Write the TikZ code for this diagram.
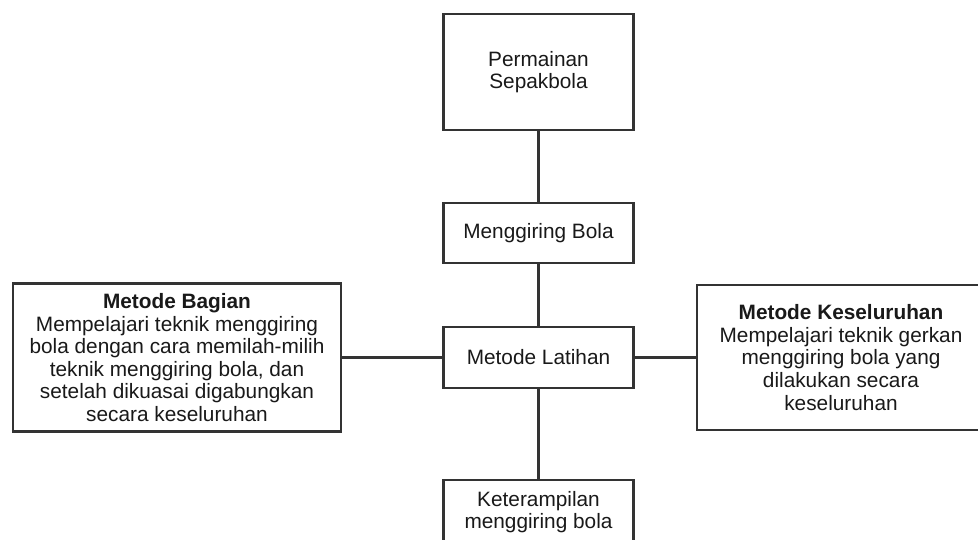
\documentclass[tikz,border=0pt]{standalone}
\usepackage{fontspec}
\setmainfont{Liberation Sans}

\begin{document}
\begin{tikzpicture}[x=1pt,y=1pt,yscale=-1,xscale=1,
  box/.style={draw=black!80,line width=2.4pt,fill=white,inner sep=0pt,align=center,font=\fontsize{20.8}{22.6}\selectfont,text=black!90},
  link/.style={draw=black!80,line width=2.4pt}]
\useasboundingbox (0,0) rectangle (978,539);

%Shape: Rectangle [top]
\node[box,minimum width=190,minimum height=116] (game) at (538.5,72) {Permainan\\Sepakbola};
%Shape: Rectangle [skill]
\node[box,minimum width=190,minimum height=60] (dribble) at (538.5,233) {Menggiring Bola};
%Shape: Rectangle [method]
\node[box,minimum width=190,minimum height=61] (method) at (538.5,357.5) {Metode Latihan};
%Shape: Rectangle [part method]
\node[box,minimum width=328,minimum height=148] (part) at (177,357.5) {\textbf{Metode Bagian}\\Mempelajari teknik menggiring\\bola dengan cara memilah-milih\\teknik menggiring bola, dan\\setelah dikuasai digabungkan\\secara keseluruhan};
%Shape: Rectangle [whole method]
\node[box,minimum width=288,minimum height=145] (whole) at (841,357.5) {\textbf{Metode Keseluruhan}\\Mempelajari teknik gerkan\\menggiring bola yang\\dilakukan secara\\keseluruhan};
%Shape: Rectangle [result]
\node[box,minimum width=190,minimum height=64] (result) at (538.5,512) {Keterampilan\\menggiring bola};

%Straight Lines
\draw[link] (game) -- (dribble);
\draw[link] (dribble) -- (method);
\draw[link] (method) -- (result);
\draw[link] (part) -- (method);
\draw[link] (method) -- (whole);

\end{tikzpicture}
\end{document}
